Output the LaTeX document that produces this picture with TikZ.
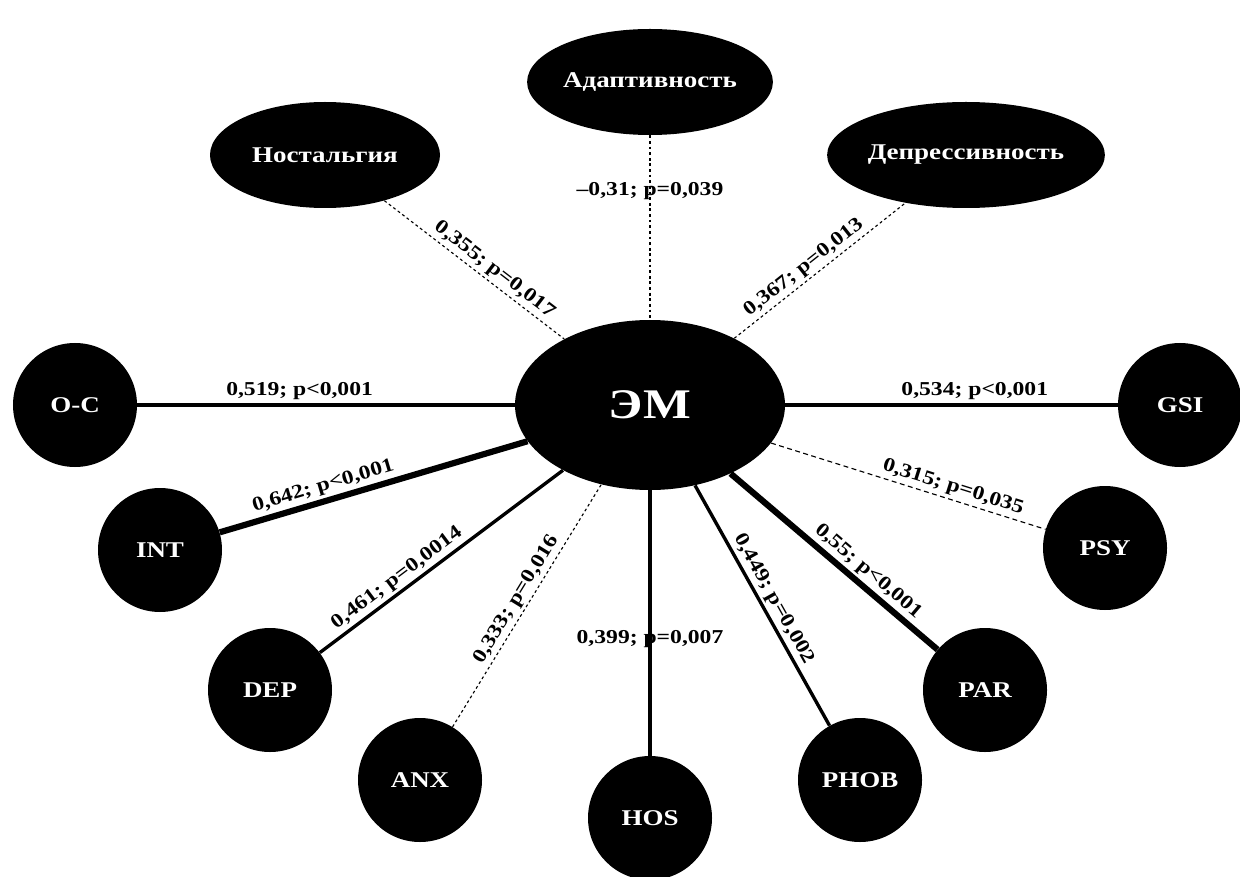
\documentclass[tikz,border=0pt]{standalone}
\usepackage{fontspec}
\setmainfont{Liberation Serif}[FakeStretch=1.2]
\usetikzlibrary{shapes.geometric}
\tikzset{
  emnode/.style={
    ellipse, fill=black, text=white, inner sep=0pt,
    minimum width=67.5mm, minimum height=42.5mm,
    font=\fontsize{30}{34}\selectfont\bfseries,
  },
  trait/.style={
    ellipse, fill=black, text=white, inner sep=0pt,
    minimum height=26.5mm, font=\fontsize{16}{19}\selectfont\bfseries,
  },
  subscale/.style={
    circle, fill=black, text=white, inner sep=0pt,
    minimum size=31mm, font=\fontsize{16}{19}\selectfont\bfseries,
  },
  weak/.style={draw=black, line width=0.8pt, dash pattern=on 2pt off 2pt},
  medium/.style={draw=black, line width=2.4pt},
  strong/.style={draw=black, line width=3.4pt},
  vstrong/.style={draw=black, line width=4.4pt},
  corr/.style={font=\fontsize{14}{17}\selectfont\bfseries, inner sep=2pt},
}
\begin{document}
\begin{tikzpicture}[x=0.25mm, y=-0.25mm]
  \useasboundingbox (0,0) rectangle (1240,877);
  % centre
  \node[emnode] (em) at (650,405) {ЭМ};
  % personality traits
  \node[trait, minimum width=55mm] (adapt) at (650,82) {Адаптивность};
  \node[trait, minimum width=57.5mm] (nost) at (325,155) {Ностальгия};
  \node[trait, minimum width=63mm] (depr) at (966,155) {Депрессивность};
  % SCL-90 subscales
  \node[subscale] (oc) at (75,405) {O-C};
  \node[subscale] (gsi) at (1180,405) {GSI};
  \node[subscale] (int) at (160,550) {INT};
  \node[subscale] (psy) at (1105,548) {PSY};
  \node[subscale] (dep) at (270,690) {DEP};
  \node[subscale] (par) at (985,690) {PAR};
  \node[subscale] (anx) at (420,780) {ANX};
  \node[subscale] (phob) at (860,780) {PHOB};
  \node[subscale] (hos) at (650,818) {HOS};
  % links
  \draw[weak] (adapt) -- node[corr, pos=0.3] {–0,31; p=0,039} (em);
  \draw[weak] (nost) -- node[corr, sloped, above, pos=0.57] {0,355; p=0,017} (em);
  \draw[weak] (em) -- node[corr, sloped, above, pos=0.45] {0,367; p=0,013} (depr);
  \draw[strong] (oc) -- node[corr, above, pos=0.43] {0,519; p<0,001} (em);
  \draw[strong] (em) -- node[corr, above, pos=0.57] {0,534; p<0,001} (gsi);
  \draw[vstrong] (int) -- node[corr, sloped, above, pos=0.35] {0,642; p<0,001} (em);
  \draw[medium] (dep) -- node[corr, sloped, above, pos=0.35] {0,461; p=0,0014} (em);
  \draw[weak] (anx) -- node[corr, sloped, above, pos=0.5] {0,333; p=0,016} (em);
  \draw[medium] (hos) -- node[corr, pos=0.44] {0,399; p=0,007} (em);
  \draw[medium] (em) -- node[corr, sloped, above, pos=0.5] {0,449; p=0,002} (phob);
  \draw[vstrong] (em) -- node[corr, sloped, above, pos=0.62] {0,55; p<0,001} (par);
  \draw[weak, dash pattern=on 3.5pt off 2.5pt] (em) -- node[corr, sloped, above, pos=0.65] {0,315; p=0,035} (psy);
\end{tikzpicture}
\end{document}
